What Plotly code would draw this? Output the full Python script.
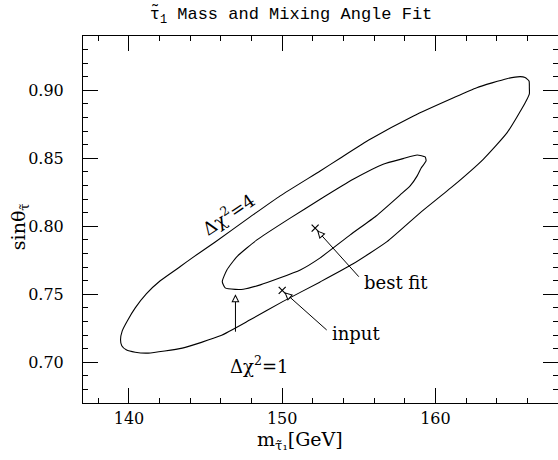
import math
import plotly.graph_objects as go

# Delta chi^2 = 4 contour (outer)
outer_x = [150.0, 152.48, 154.63, 156.84, 159.0, 161.16, 163.12, 164.68, 165.85, 166.13, 166.13, 166.11,
           165.85, 165.53, 164.66, 162.70, 161.18, 158.57, 155.74, 153.78, 152.48, 149.87, 147.91, 145.63,
           144.13, 143.35, 142.04, 141.13, 140.41, 139.89, 139.56, 139.45, 139.53, 139.82, 140.41, 141.26,
           143.48, 145.96, 147.91, 150.0]
outer_y = [0.7444, 0.7591, 0.7724, 0.7887, 0.8099, 0.8297, 0.8493, 0.8689, 0.8907, 0.8974, 0.9018, 0.9069,
           0.9095, 0.9101, 0.9086, 0.9020, 0.8946, 0.8812, 0.8640, 0.8501, 0.8407, 0.8224, 0.8069, 0.7885,
           0.7768, 0.7704, 0.7599, 0.7503, 0.7400, 0.7304, 0.7231, 0.7165, 0.7121, 0.7091, 0.7073, 0.7067,
           0.7104, 0.7194, 0.7312, 0.7444]

# Delta chi^2 = 1 contour (inner)
inner_x = [151.18, 152.48, 154.44, 156.13, 157.70, 158.35, 158.81, 159.07, 159.39, 159.33, 158.81, 157.89,
           156.59, 154.63, 152.48, 150.52, 148.35, 147.05, 146.39, 146.09, 146.28, 146.93, 147.46, 148.57,
           151.18]
inner_y = [0.7679, 0.7768, 0.7937, 0.8076, 0.8231, 0.8297, 0.8371, 0.8429, 0.8481, 0.8510, 0.8525, 0.8498,
           0.8457, 0.8346, 0.8199, 0.8060, 0.7900, 0.7777, 0.7679, 0.7593, 0.7547, 0.7536, 0.7537, 0.7569,
           0.7679]

input_pt = (150.0, 0.7529)
best_fit_pt = (152.15, 0.7986)

x_ticks = [140, 150, 160]
y_ticks = [0.70, 0.75, 0.80, 0.85, 0.90]

SERIF = "DejaVu Serif"

fig = go.Figure()
fig.add_trace(go.Scatter(x=outer_x, y=outer_y, mode="lines",
                         line=dict(color="black", width=1.1, shape="spline", smoothing=0.5),
                         hoverinfo="skip", showlegend=False))
fig.add_trace(go.Scatter(x=inner_x, y=inner_y, mode="lines",
                         line=dict(color="black", width=1.1, shape="spline", smoothing=0.5),
                         hoverinfo="skip", showlegend=False))
fig.add_trace(go.Scatter(x=[input_pt[0], best_fit_pt[0]], y=[input_pt[1], best_fit_pt[1]], mode="markers",
                         marker=dict(symbol="x-thin", size=7, line=dict(color="black", width=1.2)),
                         hoverinfo="skip", showlegend=False))

ann = []


def open_arrow(x, y, ax, ay, standoff):
    """Black arrow with an open (hollow) triangular head, pointing at (x, y)."""
    kb = 1.6                      # black head scale: length 8px, half width 4px
    ann.append(dict(x=x, y=y, xref="x", yref="y", ax=ax, ay=ay, text="", showarrow=True,
                    arrowhead=2, arrowsize=kb, arrowwidth=1, arrowcolor="black", standoff=standoff))
    # white inner head, inset by about 1px, to hollow out the black one
    sw = standoff + 2.24
    n = math.hypot(ax, ay)
    tail = sw + 5.0
    ann.append(dict(x=x, y=y, xref="x", yref="y", ax=ax / n * tail, ay=ay / n * tail, text="",
                    showarrow=True, arrowhead=2, arrowsize=0.95, arrowwidth=1, arrowcolor="white",
                    standoff=sw))


open_arrow(best_fit_pt[0], best_fit_pt[1], 45, 50, 3)
open_arrow(input_pt[0], input_pt[1], 46, 41, 3)
open_arrow(146.95, 0.7537, 0, 44, 5)

# labels
ann.append(dict(x=155.2, y=0.7585, xref="x", yref="y", text="best fit", showarrow=False,
                xanchor="left", yanchor="middle", font=dict(family=SERIF, size=18, color="black")))
ann.append(dict(x=153.13, y=0.7209, xref="x", yref="y", text="input", showarrow=False,
                xanchor="left", yanchor="middle", font=dict(family=SERIF, size=18, color="black")))
ann.append(dict(x=148.5, y=0.6981, xref="x", yref="y", text="Δχ<sup>2</sup>=1", showarrow=False,
                xanchor="center", yanchor="middle", font=dict(family=SERIF, size=18, color="black")))
ann.append(dict(x=146.45, y=0.8090, xref="x", yref="y", text="Δχ<sup>2</sup>=4", showarrow=False,
                textangle=-34, xanchor="center", yanchor="middle",
                font=dict(family=SERIF, size=18, color="black")))
# axis titles
ann.append(dict(x=151.17, y=-0.103, xref="x", yref="paper", text="m<sub>τ̃₁</sub>[GeV]", showarrow=False,
                xanchor="center", yanchor="middle", font=dict(family=SERIF, size=19, color="black")))
ann.append(dict(x=-0.135, y=0.80, xref="paper", yref="y", text="sinθ<sub>τ̃</sub>", showarrow=False,
                textangle=-90, xanchor="center", yanchor="middle", font=dict(family=SERIF, size=19, color="black")))

fig.update_layout(
    width=558, height=460,
    margin=dict(l=83, r=0, t=36, b=57, autoexpand=False),
    paper_bgcolor="white", plot_bgcolor="white",
    title=dict(text="τ̃<sub>1</sub> Mass and Mixing Angle Fit", x=291 / 558, xanchor="center",
               y=1 - 13 / 460, yanchor="middle", font=dict(family="Liberation Mono", size=17, color="black")),
    annotations=ann,
    showlegend=False,
)
fig.update_xaxes(range=[137, 168], tickvals=x_ticks, ticktext=[str(v) for v in x_ticks],
                 ticks="inside", ticklen=15, tickwidth=1, tickcolor="black",
                 minor=dict(dtick=2, tick0=0, ticks="inside", ticklen=5, tickcolor="black", showgrid=False),
                 showline=True, linecolor="black", linewidth=1, mirror="allticks",
                 showgrid=False, zeroline=False, ticklabelstandoff=1, automargin=False,
                 tickfont=dict(family=SERIF, size=16, color="black"))
fig.update_yaxes(range=[0.67, 0.94], tickvals=y_ticks, ticktext=[f"{v:.2f}" for v in y_ticks],
                 ticks="inside", ticklen=15, tickwidth=1, tickcolor="black",
                 minor=dict(dtick=0.01, tick0=0, ticks="inside", ticklen=5, tickcolor="black", showgrid=False),
                 showline=True, linecolor="black", linewidth=1, mirror="allticks",
                 showgrid=False, zeroline=False, ticklabelstandoff=15, automargin=False,
                 tickfont=dict(family=SERIF, size=16, color="black"))

# remove the default 8px page margin so the figure fills the 558x460 window exactly
fig.write_html("out.html", config={"displayModeBar": False},
               post_script="document.body.style.margin='0';")
